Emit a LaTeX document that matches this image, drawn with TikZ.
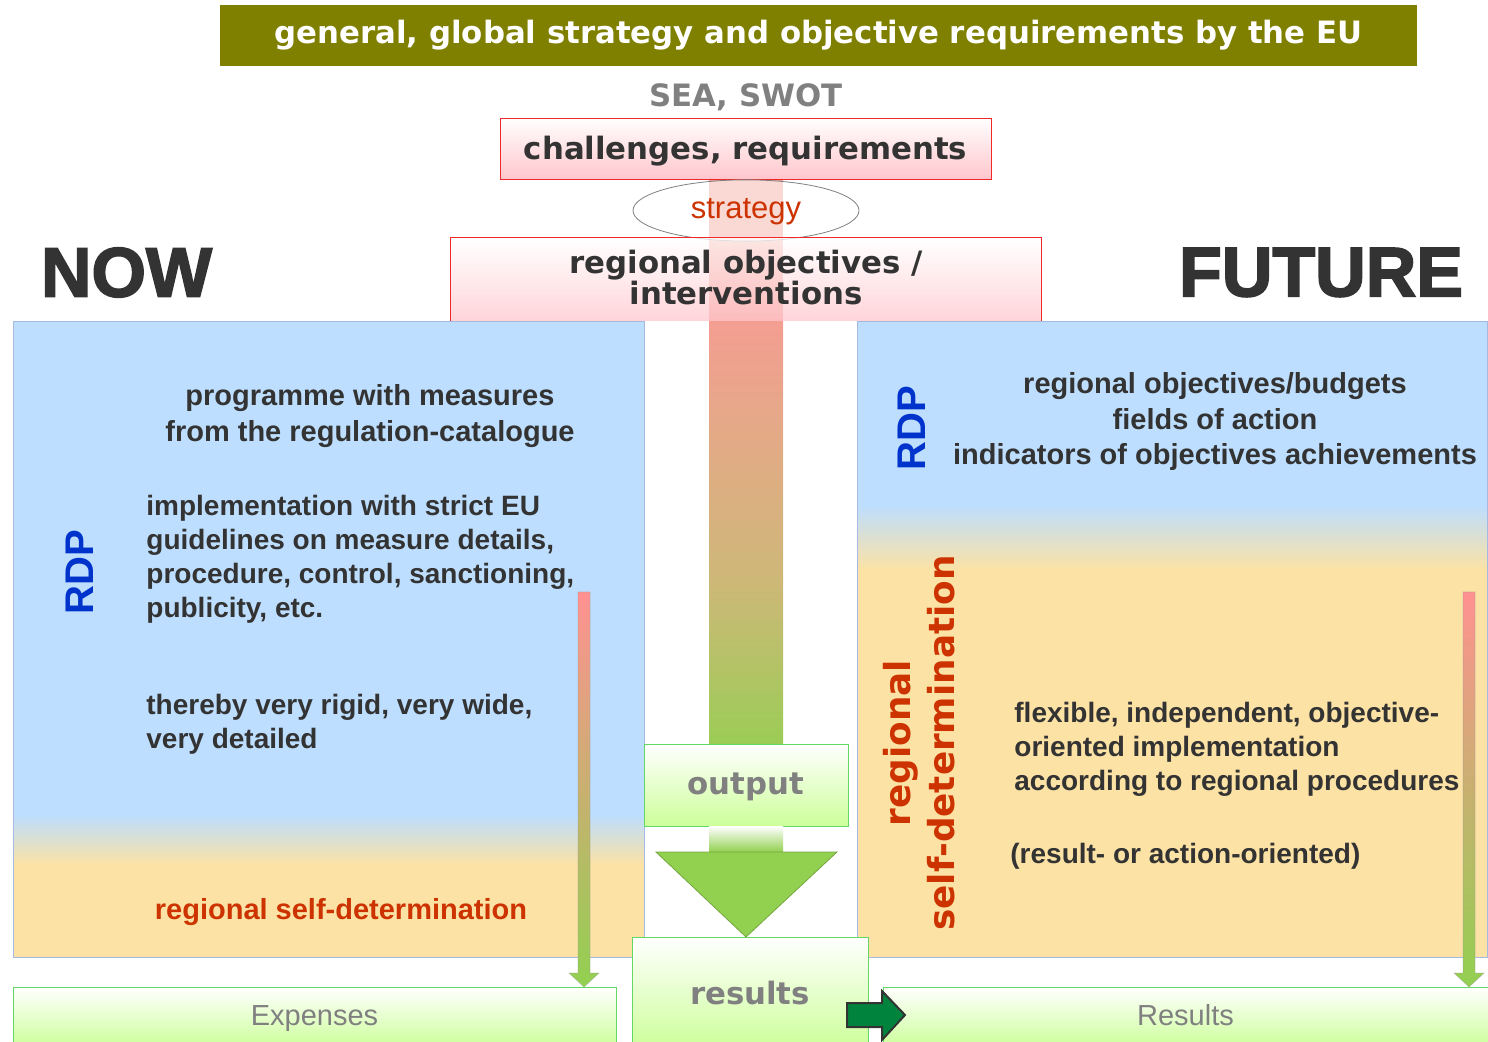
\documentclass[tikz,border=0pt]{standalone}
\usepackage{fontspec}
\setmainfont{Liberation Sans}
\newfontfamily\heavyfont{DejaVu Sans}
\newfontfamily\nowfont[FakeBold=2.5]{Liberation Sans Bold}
\usetikzlibrary{shapes.geometric}
\definecolor{euolive}{RGB}{128,128,0}
\definecolor{txtdark}{RGB}{51,51,51}
\definecolor{selfred}{RGB}{204,51,0}
\definecolor{rdpblue}{RGB}{0,51,204}
\definecolor{panelblue}{RGB}{189,222,254}
\definecolor{panelbeige}{RGB}{252,226,164}
\definecolor{panelline}{RGB}{165,185,225}
\definecolor{boxred}{RGB}{240,40,40}
\definecolor{boxpink}{RGB}{255,198,204}
\definecolor{boxgreen}{RGB}{100,215,100}
\definecolor{lightgreen}{RGB}{204,255,153}
\definecolor{arrowgreen}{RGB}{146,208,80}
\definecolor{shaftpink}{RGB}{244,158,146}
\definecolor{shafttan}{RGB}{206,184,120}
\definecolor{darkarrow}{RGB}{0,132,61}
\definecolor{thinpink}{RGB}{255,145,145}
\begin{document}
\begin{tikzpicture}[x=0.5pt, y=-0.5pt,
    bodytext/.style={font=\fontsize{14.5pt}{17pt}\selectfont\bfseries, text=txtdark, inner sep=0pt},
    smalltext/.style={font=\fontsize{14pt}{17pt}\selectfont\bfseries, text=txtdark, inner sep=0pt},
    heavytext/.style={font={\heavyfont\bfseries\fontsize{15.4pt}{15.5pt}\selectfont}},
    bigword/.style={font={\nowfont\fontsize{35pt}{35pt}\selectfont}, text=txtdark, inner sep=0pt},
    rdp/.style={font=\fontsize{20pt}{20pt}\selectfont\bfseries, text=rdpblue, rotate=90, inner sep=0pt},
    redbox/.style={draw=boxred, top color=white, bottom color=boxpink},
    greenbox/.style={draw=boxgreen, top color=white, bottom color=lightgreen, text=gray},
    thinarrow/.style={top color=thinpink, bottom color=arrowgreen, draw=black!40, draw opacity=0.4, line width=0.4pt}]
  \useasboundingbox (0,0) rectangle (1488,1042);
  \clip (0,0) rectangle (1488,1042);
  % panels
  \fill[panelblue] (13,321) rectangle (644,815);
  \shade[top color=panelblue, bottom color=panelbeige] (13,815) rectangle (644,865);
  \fill[panelbeige] (13,865) rectangle (644,957);
  \node[draw=panelline, minimum width=315.5pt, minimum height=318pt, inner sep=0pt] (leftpanel) at (328.5,639) {};
  \fill[panelblue] (857,321) rectangle (1487,505);
  \shade[top color=panelblue, bottom color=panelbeige] (857,505) rectangle (1487,570);
  \fill[panelbeige] (857,570) rectangle (1487,957);
  \node[draw=panelline, minimum width=315pt, minimum height=318pt, inner sep=0pt] (rightpanel) at (1172,639) {};
  % central shaft
  \fill[shaftpink] (709,179) rectangle (783,320);
  \shade[top color=shaftpink, bottom color=shafttan] (709,320) rectangle (783,580);
  \shade[top color=shafttan, bottom color=arrowgreen!85!shafttan] (709,580) rectangle (783,745);
  % top part
  \node[fill=euolive, text=white, heavytext, minimum width=598.5pt, minimum height=30.5pt, text height=11pt, text depth=3pt] (eu) at (818.5,35.5) {general, global strategy and objective requirements by the EU};
  \node[heavytext, text=gray] (sea) at (746,97) {SEA, SWOT};
  \node[redbox, heavytext, text=txtdark, minimum width=245.5pt, minimum height=30.5pt, text depth=3pt, text height=14pt] (challenges) at (745.5,148.5) {challenges, requirements};
  \node[ellipse, draw=gray, fill=white, fill opacity=0.6, text opacity=1, text=selfred, font=\fontsize{15.5pt}{16pt}\selectfont, minimum width=113pt, minimum height=29.5pt, text depth=3.5pt, text height=11.5pt] (strategy) at (746,210.5) {strategy};
  \node[top color=white, bottom color=boxpink, fill opacity=0.75, minimum width=295pt, minimum height=41.5pt, inner sep=0pt] (objectives) at (746,279.5) {};
  \draw[boxred] (objectives.south west) -- (objectives.north west) -- (objectives.north east) -- (objectives.south east);
  \node[heavytext, text=txtdark, align=center] (objtitle) at (746,278) {regional objectives /\\interventions};
  \node[bigword] (now) at (126.5,272.5) {NOW};
  \node[bigword] (future) at (1321,272.5) {FUTURE};
  % left panel
  \node[rdp] (rdpleft) at (80,572) {RDP};
  \node[bodytext, align=center, font=\fontsize{14.5pt}{18pt}\selectfont\bfseries] (progtext) at (370,416) {programme with measures\\from the regulation-catalogue};
  \node[smalltext, align=left, anchor=west] (impltext) at (146,559) {implementation with strict EU\\guidelines on measure details,\\procedure, control, sanctioning,\\publicity, etc.};
  \node[smalltext, align=left, anchor=west] (rigidtext) at (146,724) {thereby very rigid, very wide,\\very detailed};
  \node[bodytext, text=selfred] (selfleft) at (341,912) {regional self-determination};
  % right panel
  \node[rdp] (rdpright) at (912,428) {RDP};
  \node[bodytext, align=center, font=\fontsize{14.5pt}{17.75pt}\selectfont\bfseries] (goaltext) at (1215,422) {regional objectives/budgets\\fields of action\\indicators of objectives achievements};
  \node[heavytext, font={\heavyfont\bfseries\fontsize{17.9pt}{22pt}\selectfont}, text=selfred, align=center, rotate=90] (selfright) at (919,743) {regional\\self-determination};
  \node[smalltext, align=left, anchor=west] (flextext) at (1014,749) {flexible, independent, objective-\\oriented implementation\\according to regional procedures};
  \node[smalltext, anchor=west] (orienttext) at (1010,856) {(result- or action-oriented)};
  % bottom boxes
  \node[greenbox, heavytext, text=gray, minimum width=102pt, minimum height=41pt, text depth=3pt, text height=12pt] (output) at (746,785.5) {output};
  \node[greenbox, heavytext, text=gray, minimum width=118pt, minimum height=56pt, text depth=2pt, text height=13pt] (results) at (750,993) {results};
  \node[greenbox, font=\fontsize{14.5pt}{15pt}\selectfont, minimum width=301.5pt, minimum height=30pt, text depth=3pt, text height=11pt] (expenses) at (314.5,1017) {Expenses};
  \node[greenbox, font=\fontsize{14.5pt}{15pt}\selectfont, minimum width=302.5pt, minimum height=30pt, text depth=3pt, text height=11pt] (resultsbox) at (1185.5,1017) {Results};
  % big green arrow head
  \shade[top color=white, bottom color=arrowgreen] (709,826) rectangle (783,852);
  \coordinate (tip) at (746,937);
  \filldraw[fill=arrowgreen, draw=arrowgreen!80!black] (656,852) -- (837,852) -- (tip) -- cycle;
  % thin arrows
  \path[thinarrow] (578,592) -- (590,592) -- (590,973) -- (599,973) -- (584,987) -- (569,973) -- (578,973) -- cycle;
  \path[thinarrow] (1463,592) -- (1475,592) -- (1475,973) -- (1484,973) -- (1469,987) -- (1454,973) -- (1463,973) -- cycle;
  % results to Results
  \filldraw[fill=darkarrow, draw=black!80, line width=1pt] (847,1003) -- (882,1003) -- (882,991) -- (905,1015) -- (882,1040) -- (882,1027) -- (847,1027) -- cycle;
\end{tikzpicture}
\end{document}
